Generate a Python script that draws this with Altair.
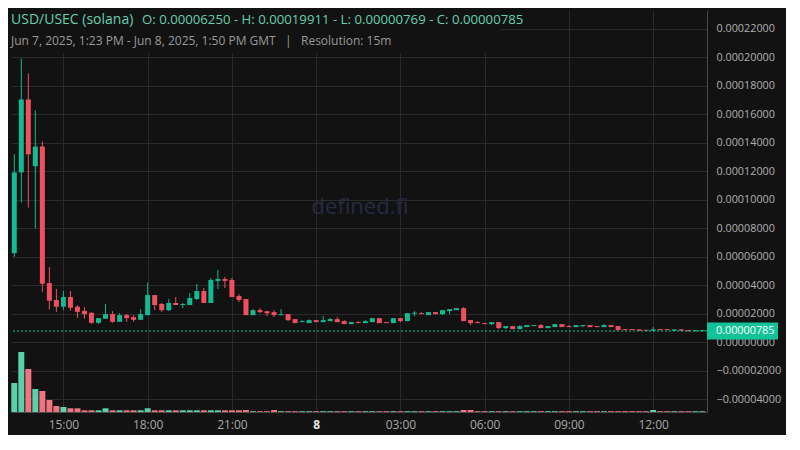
import altair as alt
import pandas as pd

UNIT = 1e-5  # prices below are in units of 0.00001 USD
START = pd.Timestamp("2025-06-07 13:15", tz="UTC")
STEP = pd.Timedelta(minutes=15)

opens = [6.25, 11.92, 17.04, 12.35, 13.73, 4.15, 2.96, 2.49, 3.17, 2.49,
         2.20, 2.06, 1.36, 1.64, 1.97, 1.43, 1.90, 1.76, 1.57, 1.90,
         3.31, 2.68, 2.25, 2.75, 2.61, 2.61, 3.03, 3.59, 2.75, 4.30,
         4.44, 4.37, 3.24, 3.03, 1.90, 2.25, 2.18, 2.11, 1.90, 1.97,
         1.62, 1.41, 1.34, 1.55, 1.41, 1.48, 1.62, 1.48, 1.27, 1.41,
         1.34, 1.41, 1.69, 1.41, 1.34, 1.69, 1.48, 2.00, 2.04, 1.90,
         2.11, 1.97, 2.18, 2.25, 2.39, 1.55, 1.41, 1.34, 1.27, 1.41,
         0.99, 1.13, 0.92, 1.06, 1.13, 1.20, 0.99, 1.06, 1.27, 1.13,
         1.06, 1.13, 1.20, 1.13, 1.06, 1.20, 1.13, 0.90, 0.90, 0.90,
         0.85, 0.80, 0.90, 0.88, 0.80, 0.90, 0.85, 0.77, 0.78]
highs = [13.20, 19.911, 18.87, 16.27, 14.08, 5.28, 3.73, 3.59, 3.59, 2.60,
         2.46, 2.10, 1.69, 2.68, 2.18, 2.04, 1.99, 1.90, 2.32, 4.18,
         3.31, 2.75, 3.03, 3.17, 2.75, 3.45, 4.08, 3.80, 4.51, 5.07,
         4.58, 4.51, 3.38, 3.03, 2.32, 2.39, 2.18, 2.25, 2.32, 1.97,
         1.62, 1.55, 1.59, 1.55, 1.83, 1.69, 1.76, 1.55, 1.41, 1.48,
         1.55, 1.69, 1.69, 1.41, 1.69, 1.69, 2.04, 2.18, 2.11, 2.11,
         2.11, 2.25, 2.32, 2.39, 2.46, 1.55, 1.48, 1.34, 1.41, 1.41,
         1.13, 1.13, 1.20, 1.20, 1.20, 1.27, 1.13, 1.27, 1.27, 1.20,
         1.20, 1.20, 1.20, 1.13, 1.27, 1.20, 1.13, 0.90, 0.90, 0.90,
         0.85, 1.06, 0.90, 0.88, 0.90, 0.90, 0.85, 0.85, 0.80]
lows = [5.99, 9.79, 9.46, 7.98, 3.54, 2.30, 2.13, 2.27, 2.23, 1.71,
        1.64, 1.29, 1.29, 1.64, 1.36, 1.43, 1.43, 1.43, 1.57, 1.90,
        2.25, 2.11, 2.18, 2.61, 2.39, 2.61, 2.96, 2.75, 2.75, 3.73,
        3.80, 3.17, 2.82, 1.90, 1.90, 2.04, 1.83, 1.76, 1.90, 1.48,
        1.34, 1.41, 1.34, 1.41, 1.41, 1.48, 1.41, 1.27, 1.27, 1.34,
        1.34, 1.41, 1.34, 1.34, 1.34, 1.41, 1.48, 1.83, 1.97, 1.90,
        1.97, 1.90, 1.97, 2.25, 1.48, 1.20, 1.34, 1.27, 1.20, 0.92,
        0.92, 0.92, 0.92, 1.06, 1.13, 0.99, 0.99, 1.06, 1.06, 1.06,
        1.06, 1.06, 1.06, 1.06, 1.06, 1.06, 0.85, 0.85, 0.85, 0.80,
        0.80, 0.80, 0.85, 0.85, 0.80, 0.80, 0.77, 0.77, 0.769]
closes = [11.92, 17.04, 13.19, 13.73, 4.11, 2.91, 2.49, 3.17, 2.42, 2.13,
          1.97, 1.36, 1.69, 1.97, 1.43, 1.90, 1.69, 1.57, 1.97, 3.31,
          2.61, 2.25, 2.75, 2.61, 2.68, 3.10, 3.59, 2.75, 4.37, 4.44,
          4.30, 3.17, 2.96, 1.90, 2.25, 2.11, 2.04, 1.90, 1.97, 1.55,
          1.34, 1.48, 1.55, 1.41, 1.55, 1.62, 1.41, 1.27, 1.41, 1.34,
          1.48, 1.69, 1.34, 1.34, 1.69, 1.48, 2.04, 2.06, 1.97, 2.11,
          1.97, 2.25, 2.32, 2.39, 1.48, 1.34, 1.34, 1.27, 1.41, 0.99,
          1.13, 0.92, 1.13, 1.20, 1.20, 0.99, 1.13, 1.27, 1.06, 1.06,
          1.20, 1.20, 1.06, 1.06, 1.20, 1.06, 0.85, 0.85, 0.85, 0.80,
          0.80, 0.90, 0.85, 0.85, 0.90, 0.80, 0.77, 0.85, 0.785]
# volume, thousand USD per 15m candle
volumes = [2.9, 6.0, 4.3, 2.3, 2.1, 1.2, 0.6, 0.5, 0.37, 0.37,
           0.17, 0.17, 0.17, 0.37, 0.17, 0.17, 0.17, 0.17, 0.17, 0.37,
           0.17, 0.17, 0.17, 0.17, 0.17, 0.17, 0.17, 0.17, 0.17, 0.17,
           0.17, 0.17, 0.17, 0.2, 0.08, 0.08, 0.08, 0.2, 0.08, 0.08,
           0.08, 0.08, 0.08, 0.08, 0.08, 0.08, 0.08, 0.08, 0.08, 0.08,
           0.08, 0.08, 0.08, 0.08, 0.08, 0.08, 0.08, 0.08, 0.08, 0.08,
           0.08, 0.08, 0.08, 0.08, 0.2, 0.2, 0.08, 0.08, 0.08, 0.08,
           0.08, 0.08, 0.08, 0.08, 0.08, 0.08, 0.08, 0.08, 0.08, 0.08,
           0.08, 0.08, 0.08, 0.08, 0.08, 0.08, 0.08, 0.08, 0.08, 0.08,
           0.08, 0.2, 0.08, 0.08, 0.08, 0.08, 0.08, 0.08, 0.08]

y_ticks = [-4, -2, 0, 2, 4, 6, 8, 10, 12, 14, 16, 18, 20, 22]
x_tick_hours = [(7, 15), (7, 18), (7, 21), (8, 0), (8, 3), (8, 6), (8, 9), (8, 12)]
last_price = 0.785

TITLE = "USD/USEC (solana)"
OHLC = "O: 0.00006250 - H: 0.00019911 - L: 0.00000769 - C: 0.00000785"
SUB = "Jun 7, 2025, 1:23 PM - Jun 8, 2025, 1:50 PM GMT\u00a0\u00a0\u00a0|\u00a0\u00a0\u00a0Resolution: 15m"
WATERMARK = "defined.fi"

BG = "#121212"
GREEN = "#12b991"
RED = "#ef5060"
VGREEN = "#5ccfab"
VRED = "#ee7482"
TEAL_TXT = "#63d1b0"
FONT = "Open Sans"

W, H = 696, 402

n = len(opens)
times = [(START + i * STEP).strftime("%Y-%m-%dT%H:%M:%SZ") for i in range(n)]
min_body = 0.07
rows = []
for i in range(n):
    o, h, l, c = opens[i], highs[i], lows[i], closes[i]
    bot = min(o, c)
    top = max(o, c, bot + min_body)
    rows.append(dict(t=times[i], low=l * UNIT, high=h * UNIT, bot=bot * UNIT, top=top * UNIT,
                     vol=volumes[i], dir="up" if c >= o else "down"))
df = pd.DataFrame(rows)

x_enc = alt.X(
    "t:T",
    scale=alt.Scale(type="utc", nice=False, padding=0, domain=[
        alt.DateTime(year=2025, month=6, date=7, hours=13, minutes=8, utc=True),
        alt.DateTime(year=2025, month=6, date=8, hours=13, minutes=55, utc=True)]),
    axis=alt.Axis(
        values=[alt.DateTime(year=2025, month=6, date=d, hours=hh, utc=True) for d, hh in x_tick_hours],
        labelExpr="utchours(datum.value) == 0 ? '' + utcdate(datum.value) : utcFormat(datum.value, '%H:%M')",
        labelFontWeight={"condition": {"test": "utchours(datum.value) == 0", "value": "bold"}, "value": "normal"},
        labelColor={"condition": {"test": "utchours(datum.value) == 0", "value": "#e6e6e6"}, "value": "#a8a8a8"},
        labelFontSize=12, labelPadding=7, ticks=False, grid=True, title=None, labelFlush=False),
)

price_scale = alt.Scale(domain=[-4.90 * UNIT, 23.32 * UNIT], nice=False, zero=False, padding=0)
y_axis = alt.Axis(orient="right", values=[v * UNIT for v in y_ticks], format=".8f",
                  labelFontSize=10.8, labelColor="#b0b0b0", labelPadding=9, ticks=False,
                  grid=True, title=None)
color_price = alt.Color("dir:N", scale=alt.Scale(domain=["up", "down"], range=[GREEN, RED]), legend=None)

base = alt.Chart(df)
wicks = base.mark_rule(strokeWidth=1).encode(
    x=x_enc, y=alt.Y("low:Q", scale=price_scale, axis=y_axis), y2="high:Q", color=color_price)
bodies = base.mark_bar(size=5).encode(
    x=x_enc, y=alt.Y("bot:Q", scale=price_scale, axis=y_axis), y2="top:Q", color=color_price)

one = alt.Chart(pd.DataFrame({"p": [last_price * UNIT]}))
price_line = one.mark_rule(color="#14c59a", strokeWidth=1, strokeDash=[2, 2]).encode(
    y=alt.Y("p:Q", scale=price_scale, axis=y_axis))
price_box = one.mark_point(shape="M-1,-0.24L1,-0.24L1,0.24L-1,0.24Z", filled=True, size=5041,
                           color="#13c298", opacity=1).encode(
    x=alt.value(731.5), y=alt.Y("p:Q", scale=price_scale, axis=y_axis))
price_txt = one.mark_text(align="left", baseline="middle", font=FONT, fontSize=10.8, color="#ffffff").encode(
    x=alt.value(705), y=alt.Y("p:Q", scale=price_scale, axis=y_axis), text=alt.value("0.00000785"))

price = alt.layer(wicks, bodies, price_line, price_box, price_txt)

volume = base.mark_bar(size=6).encode(
    x=x_enc,
    y=alt.Y("vol:Q", scale=alt.Scale(domain=[0, 40.2], nice=False, padding=0), axis=None),
    color=alt.Color("dir:N", scale=alt.Scale(domain=["up", "down"], range=[VGREEN, VRED]), legend=None),
)

dummy = alt.Chart(pd.DataFrame({"a": [0]}))
legend_bg = dummy.mark_rect(color=BG).encode(
    x=alt.value(0), x2=alt.value(490), y=alt.value(0), y2=alt.value(43))
watermark = dummy.mark_text(font=FONT, fontSize=22, color="#262b42", align="center", baseline="middle").encode(
    x=alt.value(349), y=alt.value(197), text=alt.value(WATERMARK))
t1 = dummy.mark_text(font=FONT, fontSize=14, color=TEAL_TXT, align="left", baseline="alphabetic").encode(
    x=alt.value(0), y=alt.value(14), text=alt.value(TITLE))
t2 = dummy.mark_text(font=FONT, fontSize=13.2, color=TEAL_TXT, align="left", baseline="alphabetic").encode(
    x=alt.value(131), y=alt.value(14), text=alt.value(OHLC))
t3 = dummy.mark_text(font=FONT, fontSize=12, color="#9a9a9a", align="left", baseline="alphabetic").encode(
    x=alt.value(0), y=alt.value(34.5), text=alt.value(SUB))

chart = alt.layer(volume, legend_bg, watermark, price, t1, t2, t3).resolve_scale(
    y="independent", color="independent"
).properties(
    width=W, height=H, background=BG,
    padding={"left": 2, "top": 2, "right": 5, "bottom": 5},
).configure_view(stroke=None).configure_axis(
    gridColor="#2a2a2a", domainColor="#4a4a4a", labelFont=FONT, gridWidth=1, domainWidth=1,
)

chart.save("out.html", embed_options={"renderer": "svg", "actions": False})
